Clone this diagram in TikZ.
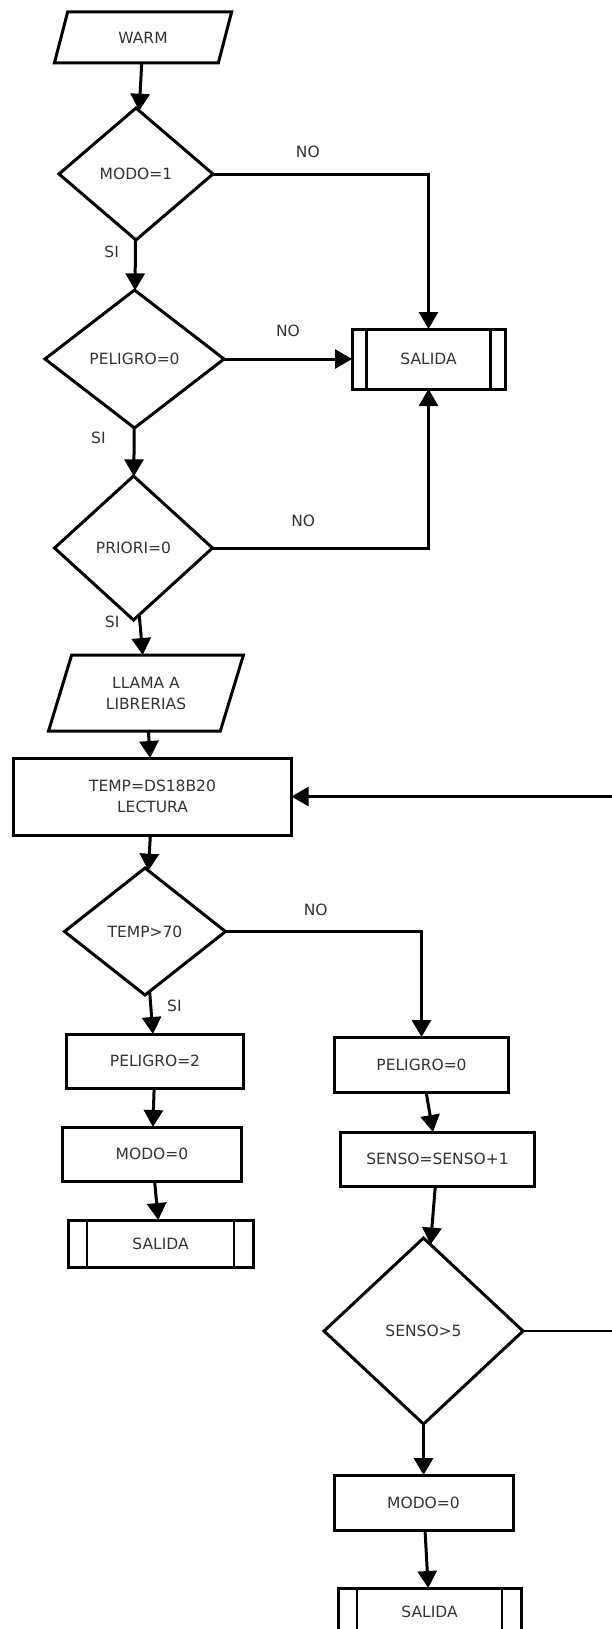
\documentclass[tikz,border=0pt]{standalone}
\usepackage{fontspec}
\setmainfont{DejaVu Sans}
\usetikzlibrary{shapes.geometric, arrows.meta, positioning}

\begin{document}
\begin{tikzpicture}[
    x=1pt, y=-1pt,
    base/.style={draw=black, line width=3pt, outer sep=0pt, inner sep=0pt, text=black!80, font=\fontsize{15.5}{21}\selectfont, align=center},
    io/.style={base, trapezium, trapezium left angle=69, trapezium right angle=111, trapezium stretches=true},
    box/.style={base, rectangle, minimum height=54pt},
    decision/.style={base, diamond},
    salida/.style={box, path picture={
        \draw[line width=2.5pt] ([xshift=#1]path picture bounding box.north west) -- ([xshift=#1]path picture bounding box.south west)
            ([xshift=-#1]path picture bounding box.north east) -- ([xshift=-#1]path picture bounding box.south east);}},
    salida/.default=19pt,
    lbl/.style={inner sep=0pt, text=black!80, font=\fontsize{15.5}{21}\selectfont},
    arrow/.style={-{Triangle[length=17pt,width=19pt]}, line width=3pt, draw=black}
]
    \useasboundingbox (0,0) rectangle (611,1629);

    \node[io, minimum width=178pt, minimum height=51pt] (warm) at (143,37.5) {WARM};
    \node[decision, minimum width=154pt, minimum height=132pt, below=45pt of warm, xshift=-7pt] (modo1) {MODO=1};
    \node[decision, minimum width=179pt, minimum height=138pt, below=50pt of modo1, xshift=-1.5pt] (pelA) {PELIGRO=0};
    \node[decision, minimum width=158pt, minimum height=144pt, below=48pt of pelA, xshift=-1pt] (priori) {PRIORI=0};
    \node[io, minimum width=195pt, minimum height=76pt, below=35pt of priori, xshift=12.5pt] (llama) {LLAMA A\\LIBRERIAS};
    \node[box, minimum width=278pt, minimum height=77pt, below=27pt of llama, xshift=6.5pt] (temp) {TEMP=DS18B20\\LECTURA};
    \node[decision, minimum width=161pt, minimum height=127pt, below=33pt of temp, xshift=-7.5pt] (temp70) {TEMP>70};
    \node[box, minimum width=177pt, below=39pt of temp70, xshift=10pt] (pelB) {PELIGRO=2};
    \node[box, minimum width=179pt, below=39pt of pelB, xshift=-3pt] (modoA) {MODO=0};
    \node[salida, minimum width=185pt, minimum height=47pt, below=39pt of modoA, xshift=8.5pt] (salA) {SALIDA};

    \node[salida=14.5pt, minimum width=153pt, minimum height=60pt, right=128pt of pelA] (salTop) {SALIDA};
    \node[box, minimum width=174pt, minimum height=55pt, right=91pt of pelB, yshift=-3.5pt] (pelC) {PELIGRO=0};
    \node[box, minimum width=194.5pt, below=40pt of pelC, xshift=16pt] (sensoInc) {SENSO=SENSO+1};
    \node[decision, minimum width=199pt, minimum height=186pt, below=52pt of sensoInc, xshift=-14pt] (senso5) {SENSO>5};
    \node[box, minimum width=179pt, minimum height=55pt, below=51pt of senso5] (modoB) {MODO=0};
    \node[salida, minimum width=183pt, minimum height=47pt, below=58pt of modoB, xshift=6pt] (salB) {SALIDA};

    \draw[arrow] (warm) -- (modo1);
    \draw[arrow] (modo1) -- node[lbl, left=15pt, pos=0.24] (si1) {SI} (pelA);
    \draw[arrow] (modo1.east) -| node[lbl, above=15pt, pos=0.22] (no1) {NO} (salTop.north);
    \draw[arrow] (pelA.east) -- node[lbl, above=21pt, pos=0.5] (no2) {NO} (salTop.west);
    \draw[arrow] (pelA) -- node[lbl, left=27pt, pos=0.21] (si2) {SI} (priori);
    \draw[arrow] (priori.east) -| node[lbl, above=20pt, pos=0.21] (no3) {NO} (salTop.south);
    \draw[arrow] (priori) -- node[lbl, left=19pt, pos=0.17] (si3) {SI} (llama);
    \draw[arrow] (llama) -- (temp);
    \draw[arrow] (temp) -- (temp70);
    \draw[arrow] (temp70) -- node[lbl, right=15pt, pos=0.33] (si4) {SI} (pelB);
    \draw[arrow] (temp70.east) -| node[lbl, above=14pt, pos=0.23] (no4) {NO} (pelC.north);
    \draw[arrow] (pelB) -- (modoA);
    \draw[arrow] (modoA) -- (salA);
    \draw[arrow] (pelC) -- (sensoInc);
    \draw[arrow] (sensoInc) -- (senso5);
    \draw[arrow] (senso5) -- (modoB);
    \draw[arrow] (modoB) -- (salB);
    \draw[arrow, line width=2.5pt] (senso5.east) -- ++(95,0) |- (temp.east);
\end{tikzpicture}
\end{document}
